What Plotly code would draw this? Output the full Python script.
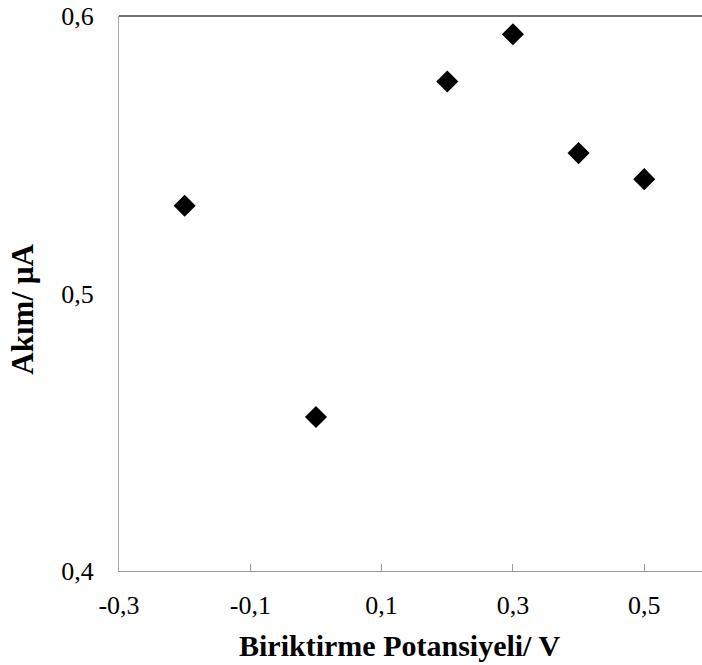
import plotly.graph_objects as go

potential = [-0.2, 0.0, 0.2, 0.3, 0.4, 0.5]
current = [0.5316, 0.4555, 0.5764, 0.5934, 0.5506, 0.5412]
x_ticks = [-0.3, -0.1, 0.1, 0.3, 0.5]
x_tick_text = ["-0,3", "-0,1", "0,1", "0,3", "0,5"]
y_ticks = [0.4, 0.5, 0.6]
y_tick_text = ["0,4", "0,5", "0,6"]

fig = go.Figure()
fig.add_trace(go.Scatter(
    x=potential, y=current, mode="markers",
    marker=dict(symbol="diamond", size=17, color="black", line=dict(width=0)),
    showlegend=False,
))

font = "Liberation Serif"
fig.update_layout(
    width=702, height=665,
    margin=dict(l=119, r=0, t=16, b=94),
    paper_bgcolor="white", plot_bgcolor="white",
    font=dict(family=font, color="black", size=26),
    xaxis=dict(
        range=[-0.3, 0.588], tickvals=x_ticks, ticktext=x_tick_text,
        showgrid=False, zeroline=False, showline=True, linecolor="#9a9a9a", linewidth=1,
        ticks="inside", ticklen=7, tickcolor="#9a9a9a", ticklabelstandoff=11,
        tickfont=dict(family=font, size=26, color="black"),
    ),
    yaxis=dict(
        range=[0.4, 0.6], tickvals=y_ticks, ticktext=y_tick_text,
        showgrid=False, zeroline=False, showline=True, linecolor="#a8a8a8", linewidth=1,
        ticks="", ticklabelstandoff=19,
        tickfont=dict(family=font, size=26, color="black"),
    ),
    shapes=[dict(type="line", xref="paper", yref="paper", x0=0, x1=1, y0=1, y1=1,
                 line=dict(color="#444444", width=1.5))],
    annotations=[
        dict(text="<b>Biriktirme Potansiyeli/ V</b>", xref="paper", yref="paper",
             x=0.481, y=-0.135, xanchor="center", yanchor="middle", showarrow=False,
             font=dict(family=font, size=30, color="black")),
        dict(text="<b>Akım/ µA</b>", xref="paper", yref="paper",
             x=-0.167, y=0.472, xanchor="center", yanchor="middle", showarrow=False,
             textangle=-90, font=dict(family=font, size=31, color="black")),
    ],
)

fig.write_html("out.html")
